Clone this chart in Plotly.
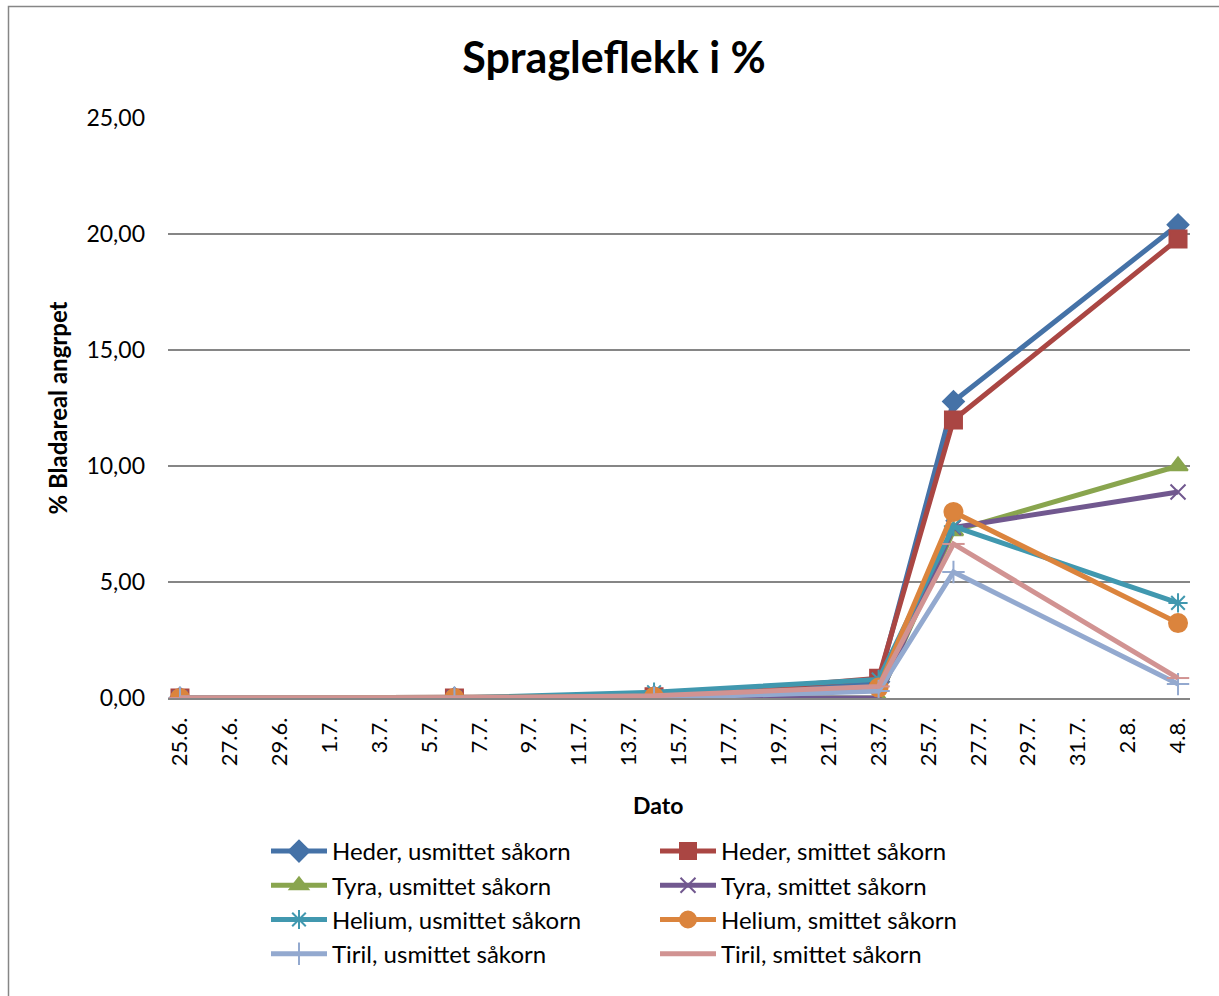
from datetime import date

import plotly.graph_objects as go

# Observation dates (day.month.)
obs_dates = ["25.6.", "6.7.", "14.7.", "23.7.", "26.7.", "4.8."]

# Axis tick labels, every second day
tick_labels = ["25.6.", "27.6.", "29.6.", "1.7.", "3.7.", "5.7.", "7.7.", "9.7.",
               "11.7.", "13.7.", "15.7.", "17.7.", "19.7.", "21.7.", "23.7.",
               "25.7.", "27.7.", "29.7.", "31.7.", "2.8.", "4.8."]

# % leaf area attacked per series
heder_usmittet = [0.0, 0.0, 0.05, 0.70, 12.78, 20.40]
heder_smittet = [0.0, 0.0, 0.05, 0.85, 11.98, 19.78]
tyra_usmittet = [0.0, 0.0, 0.0, 0.0, 7.20, 10.00]
tyra_smittet = [0.0, 0.0, 0.0, 0.0, 7.35, 8.88]
helium_usmittet = [0.0, 0.0, 0.25, 0.80, 7.40, 4.10]
helium_smittet = [0.0, 0.0, 0.05, 0.45, 8.02, 3.23]
tiril_usmittet = [0.0, 0.0, 0.0, 0.30, 5.43, 0.60]
tiril_smittet = [0.0, 0.0, 0.10, 0.50, 6.64, 0.86]

series_names = ["Heder, usmittet såkorn", "Heder, smittet såkorn",
                "Tyra, usmittet såkorn", "Tyra, smittet såkorn",
                "Helium, usmittet såkorn", "Helium, smittet såkorn",
                "Tiril, usmittet såkorn", "Tiril, smittet såkorn"]


def day_index(label):
    d, m = [int(p) for p in label.strip(".").split(".")]
    return (date(2011, m, d) - date(2011, 6, 25)).days


x_days = [day_index(s) for s in obs_dates]
tick_days = [day_index(s) for s in tick_labels]

series_values = [heder_usmittet, heder_smittet, tyra_usmittet, tyra_smittet,
                 helium_usmittet, helium_smittet, tiril_usmittet, tiril_smittet]
colors = ["#4572A7", "#AA4643", "#89A54E", "#71588F",
          "#4198AF", "#DB843D", "#93A9CF", "#D19392"]
symbols = ["diamond", "square", "triangle-up", "x-thin-open",
           "asterisk-open", "circle", "cross-thin-open", "line-ew-open"]
sizes = [16, 17, 17, 15, 16, 18, 16, 16]

fig = go.Figure()
for name, vals, col, sym, sz in zip(series_names, series_values, colors, symbols, sizes):
    fig.add_trace(go.Scatter(
        x=x_days, y=vals, name=name, mode="lines+markers",
        line=dict(color=col, width=5),
        marker=dict(symbol=sym, size=sz, color=col, line=dict(color=col, width=2)),
    ))

font_family = "Lato, 'Open Sans', sans-serif"

fig.update_layout(
    width=1219, height=996,
    paper_bgcolor="white", plot_bgcolor="white",
    margin=dict(l=168, r=29, t=118, b=298),
    separators=",.",
    font=dict(family=font_family, size=22, color="black"),
    title=dict(text="<b>Spragleflekk i %</b>", x=614 / 1219, xanchor="center",
               y=1 - 58 / 996, yanchor="middle",
               font=dict(family=font_family, size=43, color="black")),
    xaxis=dict(range=[-0.48, 40.48], tickmode="array", tickvals=tick_days,
               ticktext=tick_labels, tickangle=-90, showgrid=False,
               showline=True, linecolor="#868686", linewidth=1.5,
               ticks="", ticklabelstandoff=9, zeroline=False,
               tickfont=dict(size=22)),
    yaxis=dict(range=[0, 25], tickmode="array", tickvals=[0, 5, 10, 15, 20, 25],
               tickformat=".2f", showgrid=True, gridcolor="#868686", gridwidth=1.5,
               zeroline=False, showline=False, ticks="", ticklabelstandoff=22,
               tickfont=dict(size=23),
               title=dict(text="<b>% Bladareal angrpet</b>", standoff=12,
                          font=dict(size=24))),
    legend=dict(orientation="h", xref="container", yref="container",
                x=266 / 1219, xanchor="left", y=1 - 829 / 996, yanchor="top",
                entrywidth=318, entrywidthmode="pixels", itemwidth=56,
                font=dict(size=24), tracegroupgap=0, bgcolor="rgba(0,0,0,0)"),
    showlegend=True,
)

fig.add_annotation(text="<b>Dato</b>", xref="paper", yref="paper",
                   x=(658 - 168) / (1190 - 168), y=-(805 - 698) / (698 - 118),
                   xanchor="center", yanchor="middle", showarrow=False,
                   font=dict(size=23, family=font_family, color="black"))

# Outer chart border
fig.add_shape(type="rect", xref="paper", yref="paper",
              x0=-(168 - 8.5) / (1190 - 168), x1=1 + 40 / (1190 - 168),
              y0=-(996 - 698 + 40) / (698 - 118), y1=1 + (118 - 6.5) / (698 - 118),
              line=dict(color="#868686", width=1.5), fillcolor="rgba(0,0,0,0)",
              layer="below")

fig.write_html("out.html")
